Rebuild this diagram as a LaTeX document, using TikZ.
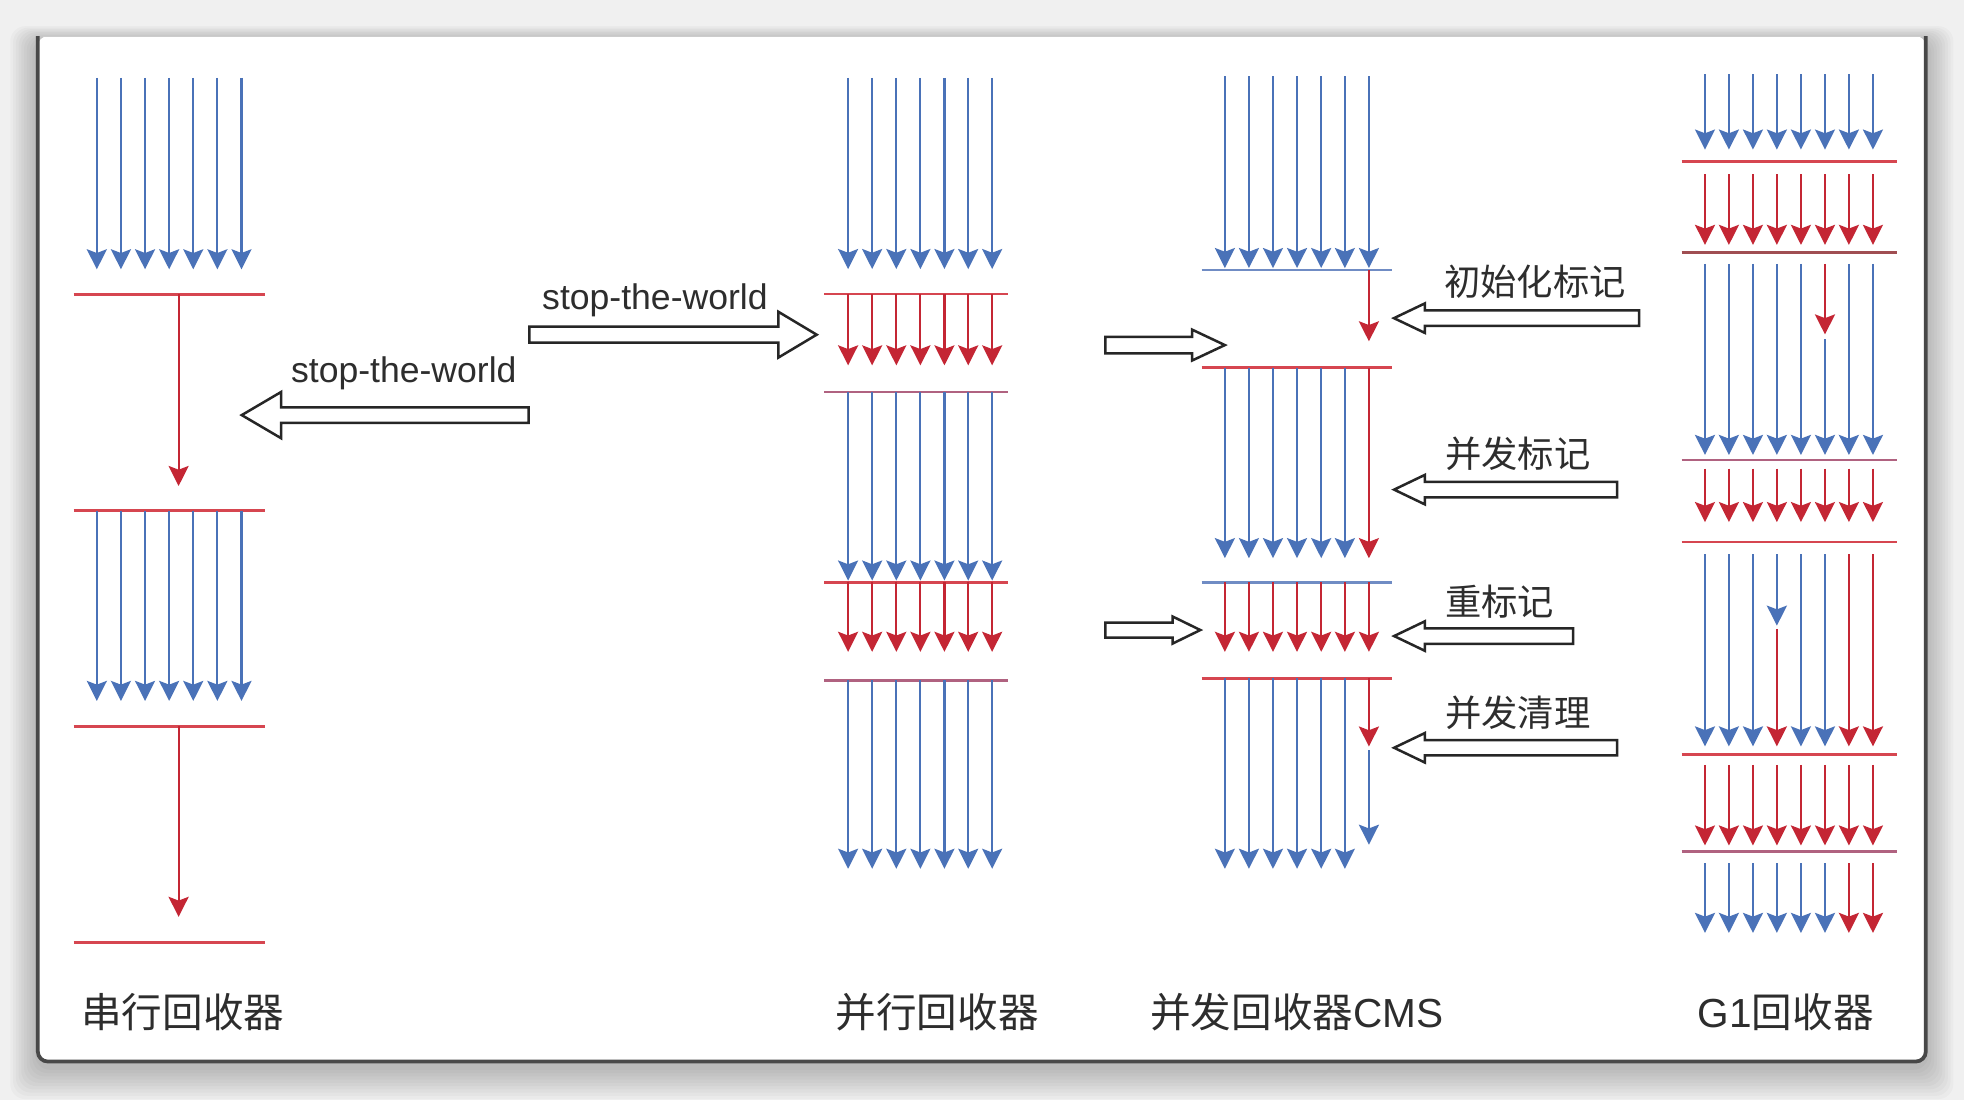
\documentclass[tikz,border=0pt]{standalone}
\usepackage{fontspec}
\setmainfont{Liberation Sans}
\newfontfamily\cjk{Noto Sans CJK SC}
\usetikzlibrary{arrows.meta}
\definecolor{bluec}{RGB}{74,114,184}
\definecolor{redc}{RGB}{196,38,52}
\definecolor{redl}{RGB}{214,70,80}
\definecolor{mauvel}{RGB}{176,98,128}
\definecolor{darkl}{RGB}{160,78,82}
\definecolor{bluel}{RGB}{112,140,196}
\definecolor{textc}{RGB}{45,45,45}
\definecolor{framec}{RGB}{72,72,72}
\definecolor{bgc}{RGB}{240,240,240}
\newcommand{\hollowarrow}[6]{\draw[hollow] ({#1},{#4-#5}) -- ({#2},{#4-#5}) -- ({#2},{#4-#6}) -- ({#3},{#4}) -- ({#2},{#4+#6}) -- ({#2},{#4+#5}) -- ({#1},{#4+#5}) -- cycle;}
\begin{document}
\begin{tikzpicture}[x=0.5pt,y=-0.5pt,
  barr/.style={draw=bluec, line width=0.85pt, -{Stealth[length=8pt,width=8pt,inset=1.5pt]}},
  rarr/.style={draw=redc, line width=0.85pt, -{Stealth[length=8pt,width=8pt,inset=1.5pt]}},
  rline/.style={draw=redl, line width=1.1pt},
  mline/.style={draw=mauvel, line width=1.1pt},
  dline/.style={draw=darkl, line width=1.1pt},
  bline/.style={draw=bluel, line width=1.1pt},
  hollow/.style={draw=black!85, fill=white, line width=1pt, line join=miter},
  stw/.style={inner sep=0pt, text=textc, font=\fontsize{14.2pt}{17pt}\selectfont},
  lab/.style={inner sep=0pt, text=textc, font=\fontsize{14.5pt}{17pt}\selectfont},
  blab/.style={inner sep=0pt, text=textc, font=\fontsize{16.2pt}{19pt}\selectfont}]
\useasboundingbox (0,0) rectangle (1568,878.2);
% background and window
\fill[bgc] (0,0) rectangle (1568,878.2);
\foreach \k in {1,...,10}
  \fill[black,opacity=0.022,rounded corners=6pt] ({30.2-\k*2.2},{28.9-\k*1.2+4}) rectangle ({1537.5+\k*2.2},{847.5+\k*2.6+4});
\fill[white,rounded corners=4pt] (30.2,28.9) rectangle (1537.5,847.5);
\draw[black!20,line width=0.5pt] (34,28.9) -- (1533.5,28.9);
\draw[framec,line width=1.5pt,rounded corners=4pt] (30.2,28.9) -- (30.2,847.5) -- (1537.5,847.5) -- (1537.5,28.9);

% ---------- serial collector ----------
\def\xsA{77.3,96.55,115.8,135.05,154.3,173.55,192.8}
\foreach \x in \xsA \draw[barr] (\x,62.2) -- (\x,215);
\draw[rline] (58.8,235) -- (211.3,235);
\draw[rarr] (142.6,235) -- (142.6,388);
\draw[rline] (58.8,407.6) -- (211.3,407.6);
\foreach \x in \xsA \draw[barr] (\x,407.6) -- (\x,559.6);
\draw[rline] (58.8,580) -- (211.3,580);
\draw[rarr] (142.6,580) -- (142.6,732);
\draw[rline] (58.8,752.7) -- (211.3,752.7);

% ---------- parallel collector ----------
\def\xsB{677.1,696.3,715.6,734.8,754.0,773.0,792.1}
\foreach \x in \xsB \draw[barr] (\x,62.2) -- (\x,214.8);
\draw[rline] (658,234.8) -- (805,234.8);
\foreach \x in \xsB \draw[rarr] (\x,234.8) -- (\x,291.7);
\draw[mline] (658,313) -- (805,313);
\foreach \x in \xsB \draw[barr] (\x,313) -- (\x,463.5);
\draw[rline] (658,465) -- (805,465);
\foreach \x in \xsB \draw[rarr] (\x,465) -- (\x,520.4);
\draw[mline] (658,543) -- (805,543);
\foreach \x in \xsB \draw[barr] (\x,543) -- (\x,693.6);

% ---------- CMS collector ----------
\def\xsC{977.9,997.1,1016.3,1035.5,1054.8,1073.7,1092.9}
\def\xsCa{977.9,997.1,1016.3,1035.5,1054.8,1073.7}
\foreach \x in \xsC \draw[barr] (\x,60.8) -- (\x,214);
\draw[bline] (959.3,215.6) -- (1111.4,215.6);
\draw[rarr] (1092.9,215.6) -- (1092.9,272.5);
\draw[rline] (959.3,293.6) -- (1111.4,293.6);
\foreach \x in \xsCa \draw[barr] (\x,293.6) -- (\x,445.6);
\draw[rarr] (1092.9,293.6) -- (1092.9,445.6);
\draw[bline] (959.3,465) -- (1111.4,465);
\foreach \x in \xsC \draw[rarr] (\x,465) -- (\x,520.4);
\draw[rline] (959.3,541.6) -- (1111.4,541.6);
\foreach \x in \xsCa \draw[barr] (\x,541.6) -- (\x,693.6);
\draw[rarr] (1092.9,541.6) -- (1092.9,596);
\draw[barr] (1092.9,598.8) -- (1092.9,674.4);

% ---------- G1 collector ----------
\def\xsD{1361.2,1380.3,1399.5,1418.6,1437.8,1457.0,1476.1,1495.3}
\foreach \x in \xsD \draw[barr] (\x,59.4) -- (\x,119.4);
\draw[rline] (1342.5,129) -- (1514.7,129);
\foreach \x in \xsD \draw[rarr] (\x,139.2) -- (\x,195.5);
\draw[dline] (1342.5,201.6) -- (1514.7,201.6);
\foreach \x in {1361.2,1380.3,1399.5,1418.6,1437.8,1476.1,1495.3} \draw[barr] (\x,210.6) -- (\x,363.2);
\draw[rarr] (1457.0,210.6) -- (1457.0,267);
\draw[barr] (1457.0,271) -- (1457.0,363.2);
\draw[mline] (1342.5,367.3) -- (1514.7,367.3);
\foreach \x in \xsD \draw[rarr] (\x,374.2) -- (\x,416.8);
\draw[rline] (1342.5,432.7) -- (1514.7,432.7);
\foreach \x in {1361.2,1380.3,1399.5,1437.8,1457.0} \draw[barr] (\x,442.5) -- (\x,595.9);
\draw[barr] (1418.6,442.5) -- (1418.6,499.5);
\draw[rarr] (1418.6,502) -- (1418.6,595.9);
\foreach \x in {1476.1,1495.3} \draw[rarr] (\x,442.5) -- (\x,595.9);
\draw[rline] (1342.5,602.2) -- (1514.7,602.2);
\foreach \x in \xsD \draw[rarr] (\x,610.7) -- (\x,675);
\draw[mline] (1342.5,679.7) -- (1514.7,679.7);
\foreach \x in {1361.2,1380.3,1399.5,1418.6,1437.8,1457.0} \draw[barr] (\x,689.1) -- (\x,744.8);
\foreach \x in {1476.1,1495.3} \draw[rarr] (\x,689.1) -- (\x,744.8);

% ---------- hollow arrows ----------
\hollowarrow{422.6}{621.4}{652}{267.2}{6.4}{18.3}
\hollowarrow{422}{224.5}{193}{331.4}{6.25}{18.5}
\hollowarrow{882.4}{951.8}{977.9}{275.5}{6.6}{12.3}
\hollowarrow{882.4}{936.2}{958.3}{503}{6}{10.8}
\hollowarrow{1308.7}{1137.6}{1112.9}{254}{6.15}{11.8}
\hollowarrow{1291}{1137.6}{1113}{390.9}{6.15}{11.8}
\hollowarrow{1256}{1137.6}{1113}{507.8}{6.15}{11.8}
\hollowarrow{1291}{1137.6}{1113}{597}{6.15}{11.8}

% ---------- texts ----------
\node[stw, anchor=base west] (stwa) at (432.5,247) {stop-the-world};
\node[stw, anchor=base west] (stwb) at (232,305.3) {stop-the-world};
\node[lab, anchor=base west] (la) at (1152.5,236) {\cjk 初始化标记};
\node[lab, anchor=base west] (lb) at (1153.5,373) {\cjk 并发标记};
\node[lab, anchor=base west] (lc) at (1153.5,491.3) {\cjk 重标记};
\node[lab, anchor=base west] (ld) at (1153.5,579.7) {\cjk 并发清理};
\node[blab, anchor=base west] (ba) at (64.5,820) {\cjk 串行回收器};
\node[blab, anchor=base west] (bb) at (666.8,820) {\cjk 并行回收器};
\node[blab, anchor=base west] (bc) at (918,820) {{\cjk 并发回收器}CMS};
\node[blab, anchor=base west] (bd) at (1355,820) {G1{\cjk 回收器}};
\end{tikzpicture}
\end{document}
